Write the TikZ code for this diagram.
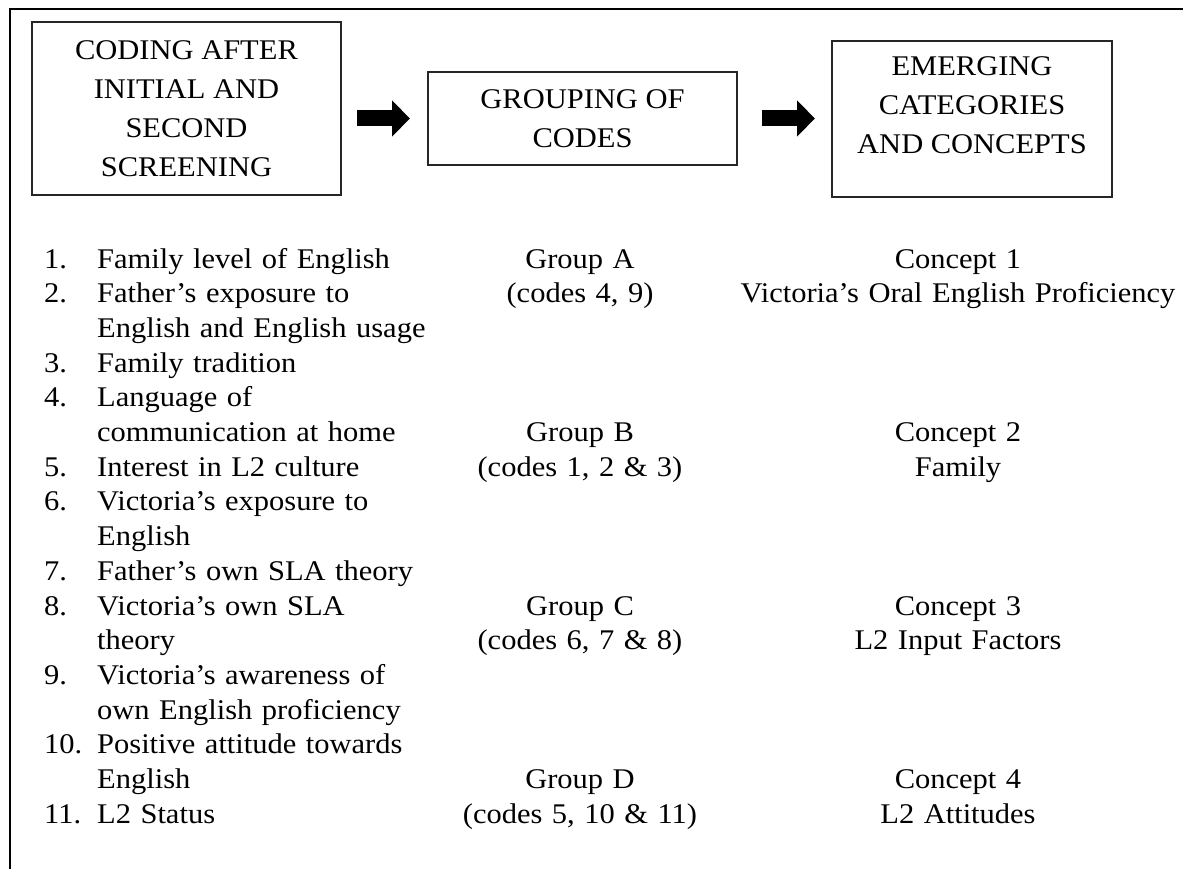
\documentclass[tikz,border=0pt]{standalone}
\usepackage{fontspec}
\setmainfont{Liberation Serif}[FakeStretch=1.07]
\usetikzlibrary{arrows.meta}

\newcommand{\listfont}{\fontsize{28.5}{34.7}\selectfont}
\newcommand{\boxfont}{\fontsize{28.5}{39}\selectfont}

\begin{document}
\begin{tikzpicture}[x=1pt, y=-1pt,
    stagebox/.style={draw=black!85, line width=1.5pt, align=center, inner sep=0pt, outer sep=0pt, font=\boxfont},
    blockarrow/.style={line width=16pt, -{Triangle[length=18pt, width=35pt]}},
    num/.style={anchor=base west, inner sep=0pt, font=\listfont},
    code/.style={anchor=base west, inner sep=0pt, text width=420pt, align=left, font=\listfont},
    group/.style={anchor=base, inner sep=0pt, text width=320pt, align=center, font=\listfont},
    concept/.style={anchor=base, inner sep=0pt, text width=480pt, align=center, font=\listfont}]

        \useasboundingbox (0,0) rectangle (1183,869);

        % Frame
        \draw[line width=2pt] (10,869) -- (10,9) -- (1183,9);

        % Stages
        \node[stagebox, minimum width=309pt, minimum height=173pt] (coding) at (186.5,108.5)
            {CODING AFTER\\INITIAL AND\\SECOND\\SCREENING};
        \node[stagebox, minimum width=309pt, minimum height=93pt] (grouping) at (582.5,118.5)
            {GROUPING OF\\CODES};
        \node[stagebox, minimum width=280pt, minimum height=156pt, text depth=27pt] (emerging) at (972,119)
            {EMERGING\\CATEGORIES\\AND CONCEPTS};

        % Arrows
        \draw[blockarrow, shorten <=16pt, shorten >=18pt] (coding.east |- grouping.west) -- (grouping.west);
        \draw[blockarrow, shorten <=25pt, shorten >=17pt] (grouping.east) -- (emerging.west |- grouping.east);

        % Codes
        \node[num] (n1) at (44,268) {1.};
        \node[code] (c1) at (97,268) {Family level of English};
        \node[num] (n2) at (44,302.7) {2.};
        \node[code] (c2) at (97,302.7) {Father’s exposure to\\English and English usage};
        \node[num] (n3) at (44,372.1) {3.};
        \node[code] (c3) at (97,372.1) {Family tradition};
        \node[num] (n4) at (44,406.8) {4.};
        \node[code] (c4) at (97,406.8) {Language of\\communication at home};
        \node[num] (n5) at (44,476.2) {5.};
        \node[code] (c5) at (97,476.2) {Interest in L2 culture};
        \node[num] (n6) at (44,510.9) {6.};
        \node[code] (c6) at (97,510.9) {Victoria’s exposure to\\English};
        \node[num] (n7) at (44,580.3) {7.};
        \node[code] (c7) at (97,580.3) {Father’s own SLA theory};
        \node[num] (n8) at (44,615) {8.};
        \node[code] (c8) at (97,615) {Victoria’s own SLA\\theory};
        \node[num] (n9) at (44,684.4) {9.};
        \node[code] (c9) at (97,684.4) {Victoria’s awareness of\\own English proficiency};
        \node[num] (n10) at (44,753.8) {10.};
        \node[code] (c10) at (97,753.8) {Positive attitude towards\\English};
        \node[num] (n11) at (44,823.2) {11.};
        \node[code] (c11) at (97,823.2) {L2 Status};

        % Groups
        \node[group] (gA) at (580,268) {Group A\\(codes 4, 9)};
        \node[group] (gB) at (580,441.5) {Group B\\(codes 1, 2 \& 3)};
        \node[group] (gC) at (580,615) {Group C\\(codes 6, 7 \& 8)};
        \node[group] (gD) at (580,788.5) {Group D\\(codes 5, 10 \& 11)};

        % Concepts
        \node[concept] (k1) at (958,268) {Concept 1\\Victoria’s Oral English Proficiency};
        \node[concept] (k2) at (958,441.5) {Concept 2\\Family};
        \node[concept] (k3) at (958,615) {Concept 3\\L2 Input Factors};
        \node[concept] (k4) at (958,788.5) {Concept 4\\L2 Attitudes};

    \end{tikzpicture}
\end{document}
